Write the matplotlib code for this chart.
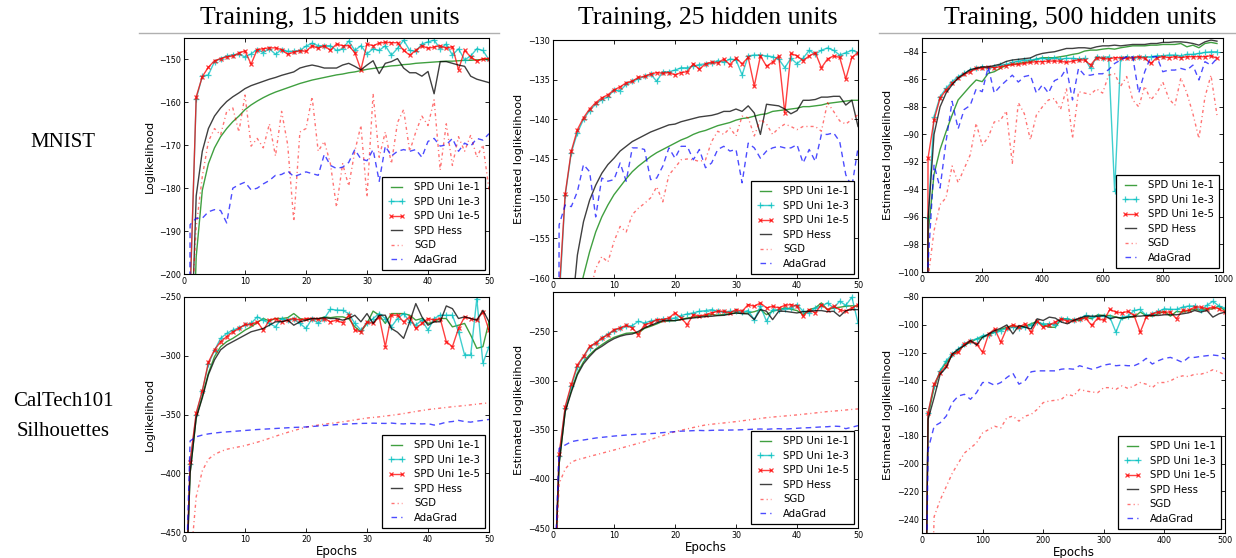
import matplotlib
matplotlib.use("Agg")
import matplotlib.pyplot as plt
from matplotlib.lines import Line2D

# ---------------- data ----------------
labels = ["SPD Uni 1e-1", "SPD Uni 1e-3", "SPD Uni 1e-5", "SPD Hess", "SGD", "AdaGrad"]

ep50 = list(range(0, 51))
ep1000 = list(range(0, 1000, 20))
ep500 = list(range(0, 501, 10))

# MNIST, 15 hidden units
m15_uni1 = [-550, -240, -196, -180.5, -174.3, -170.6, -168.0, -166.1, -164.5, -163.2, -161.7, -160.6, -159.7, -158.9, -158.2, -157.6, -157.1, -156.6, -156.1, -155.6, -155.2, -154.8, -154.5, -154.2, -153.9, -153.6, -153.4, -153.1, -152.9, -152.6, -152.3, -152.1, -151.9, -151.7, -151.5, -151.4, -151.2, -151.1, -150.9, -150.8, -150.7, -150.6, -150.5, -150.4, -150.4, -150.3, -150.2, -150.2, -150.1, -150.0, -150.0]
m15_uni3 = [-550, -205, -159.2, -153.9, -153.6, -150.5, -149.8, -149.2, -148.9, -148.8, -149.4, -148.7, -147.7, -148.4, -147.5, -148.8, -147.7, -148.1, -148.1, -147.9, -146.9, -146.2, -146.8, -146.8, -146.8, -147.9, -147.5, -145.7, -147.9, -146.8, -148.7, -147.5, -147.9, -146.8, -149.0, -147.4, -145.5, -147.9, -148.1, -146.4, -145.9, -145.5, -147.5, -146.4, -149.0, -147.5, -150.1, -149.2, -147.5, -147.9, -150.1]
m15_uni5 = [-550, -205, -158.7, -154.0, -151.8, -150.3, -149.8, -149.4, -149.2, -148.5, -148.0, -151.1, -147.7, -147.5, -147.3, -147.3, -147.7, -148.8, -148.3, -148.0, -148.1, -146.8, -147.4, -146.8, -147.9, -146.4, -146.8, -146.8, -148.4, -152.4, -146.4, -146.8, -146.2, -146.0, -146.1, -146.1, -147.9, -149.0, -147.9, -146.8, -147.4, -147.1, -146.8, -147.4, -147.0, -152.4, -147.9, -149.4, -150.4, -149.8, -149.8]
m15_hess = [-550, -225, -181.8, -171.4, -166.1, -163.2, -161.3, -159.8, -158.7, -157.8, -156.8, -156.1, -155.6, -155.1, -154.6, -154.2, -153.7, -153.3, -152.9, -152.0, -151.6, -151.3, -151.6, -152.0, -152.0, -152.0, -151.3, -150.9, -151.6, -152.4, -151.3, -150.3, -153.3, -150.9, -150.5, -149.8, -152.0, -153.1, -153.1, -153.9, -152.8, -158.0, -150.5, -150.5, -150.9, -151.3, -151.6, -153.9, -154.6, -155.0, -155.4]
m15_sgd = [-550, -215, -189, -177.3, -169.1, -166.1, -167.6, -162.1, -161.3, -166.9, -158.3, -170.2, -168.4, -170.6, -165.0, -172.5, -162.1, -169.9, -187.7, -166.9, -166.1, -158.7, -171.4, -169.1, -174.3, -184.4, -174.3, -179.5, -171.4, -165.4, -182.1, -158.0, -172.8, -166.9, -174.3, -164.7, -161.7, -171.4, -166.9, -163.2, -165.4, -159.4, -175.8, -165.0, -174.7, -168.0, -171.4, -167.6, -172.8, -169.9, -180.3]
m15_ada = [-550, -188.5, -187.0, -187.0, -185.5, -185.0, -185.2, -188.1, -180.0, -179.2, -178.6, -180.4, -180.0, -179.0, -178.2, -177.0, -176.8, -176.0, -177.3, -176.8, -176.2, -176.6, -177.0, -172.1, -174.7, -175.4, -175.1, -174.0, -171.0, -173.2, -173.6, -171.0, -178.4, -170.2, -172.5, -171.4, -171.0, -171.4, -171.0, -172.8, -169.1, -168.4, -170.2, -169.9, -168.4, -171.4, -169.5, -170.2, -168.4, -168.8, -167.3]

# MNIST, 25 hidden units
m25_uni1 = [-550, -250, -200, -175, -163, -159.7, -156.7, -154.2, -152.3, -150.8, -149.5, -148.5, -147.5, -146.6, -145.9, -145.3, -144.7, -144.2, -143.8, -143.4, -143.0, -142.6, -142.3, -141.9, -141.6, -141.4, -141.1, -140.8, -140.6, -140.4, -140.1, -139.9, -139.8, -139.6, -139.4, -139.3, -139.0, -138.9, -138.8, -138.7, -138.6, -138.4, -138.4, -138.3, -138.2, -138.0, -137.9, -137.8, -137.7, -137.6, -137.6]
m25_uni3 = [-550, -163, -149.6, -144.2, -141.7, -140.0, -138.9, -138.1, -137.5, -137.2, -136.3, -136.4, -135.6, -135.2, -134.9, -134.6, -134.3, -135.2, -134.0, -134.0, -133.8, -133.5, -133.5, -133.3, -133.1, -133.0, -132.9, -132.6, -132.8, -132.4, -132.5, -134.4, -132.0, -131.9, -131.9, -132.0, -132.1, -132.4, -133.5, -132.3, -133.0, -132.3, -131.3, -131.8, -131.3, -131.0, -131.3, -131.9, -131.6, -131.3, -131.6]
m25_uni5 = [-550, -162, -149.4, -144.0, -141.3, -139.8, -138.7, -137.9, -137.3, -136.9, -136.3, -135.9, -135.4, -135.2, -134.7, -134.6, -134.3, -134.1, -134.2, -134.1, -134.4, -134.1, -134.0, -133.0, -133.7, -133.0, -132.8, -132.9, -132.4, -133.1, -132.3, -133.0, -132.2, -135.8, -132.0, -133.3, -132.8, -132.0, -139.2, -131.7, -132.0, -132.6, -132.0, -131.6, -133.5, -132.4, -132.0, -132.2, -134.9, -132.2, -131.6]
m25_hess = [-550, -300, -200, -165, -157.1, -152.9, -150.2, -148.3, -146.8, -145.7, -144.9, -144.0, -143.4, -142.8, -142.4, -142.0, -141.6, -141.3, -141.0, -140.7, -140.6, -140.3, -140.1, -139.9, -139.7, -139.6, -139.5, -139.3, -139.0, -139.0, -138.7, -139.0, -138.3, -139.2, -141.9, -138.1, -138.2, -138.3, -138.7, -139.3, -138.9, -137.6, -137.6, -137.5, -137.2, -137.2, -137.1, -137.1, -138.2, -137.6, -140.9]
m25_sgd = [-550, -250, -200, -185, -175, -168, -162, -158.8, -157.3, -158.0, -155.4, -153.5, -154.2, -152.0, -151.2, -150.6, -149.9, -148.5, -150.4, -147.0, -146.1, -145.1, -145.0, -145.1, -145.3, -145.1, -142.8, -141.5, -141.9, -141.1, -142.1, -139.6, -139.8, -142.1, -140.0, -140.6, -141.9, -141.1, -140.6, -140.9, -141.3, -140.9, -140.9, -140.9, -141.5, -137.9, -139.0, -140.2, -140.6, -140.0, -139.4]
m25_ada = [-550, -153.3, -150.8, -151.0, -149.1, -145.7, -146.6, -152.3, -147.4, -147.8, -147.6, -145.5, -147.8, -143.6, -143.6, -143.8, -147.6, -147.4, -145.9, -143.6, -144.9, -143.4, -143.4, -145.1, -143.8, -146.1, -145.5, -143.8, -143.4, -144.0, -143.8, -148.0, -143.0, -143.6, -144.9, -144.0, -143.6, -143.4, -143.6, -143.6, -143.2, -145.5, -143.8, -145.3, -141.9, -141.9, -141.7, -142.8, -147.0, -148.5, -143.6]

# MNIST, 500 hidden units (every 20 epochs)
m500_uni1 = [-300, -97.3, -92.9, -91.1, -89.8, -88.6, -87.5, -87.0, -86.5, -86.05, -86.17, -85.57, -85.45, -85.21, -84.97, -84.92, -84.85, -84.77, -84.72, -84.53, -84.43, -84.43, -84.43, -84.36, -84.29, -84.19, -84.12, -83.95, -83.88, -83.88, -83.81, -83.76, -83.81, -83.71, -83.64, -83.57, -83.57, -83.57, -83.52, -83.52, -83.47, -83.47, -83.47, -83.40, -83.64, -83.52, -83.71, -83.40, -83.32, -83.40]
m500_uni3 = [-300, -96.1, -88.71, -87.26, -86.66, -86.17, -85.81, -85.57, -85.33, -85.21, -85.09, -85.16, -85.09, -84.97, -84.92, -84.77, -84.68, -84.60, -84.60, -84.53, -84.48, -84.53, -84.43, -84.53, -84.48, -84.48, -84.53, -84.48, -85.21, -84.36, -84.43, -84.36, -94.14, -84.43, -84.36, -84.43, -84.36, -84.36, -84.36, -84.29, -84.29, -84.24, -84.24, -84.29, -84.19, -84.19, -84.12, -84.05, -84.0, -84.0]
m500_uni5 = [-300, -91.73, -88.95, -87.38, -86.78, -86.29, -85.93, -85.64, -85.45, -85.21, -85.21, -85.09, -85.16, -85.09, -85.01, -84.92, -84.92, -84.85, -84.77, -84.72, -84.72, -84.68, -84.68, -84.68, -84.77, -84.68, -84.60, -84.60, -84.97, -84.43, -84.48, -84.53, -84.43, -84.43, -84.48, -84.43, -84.36, -84.48, -84.85, -84.43, -84.36, -84.43, -84.36, -84.43, -84.36, -84.36, -84.36, -84.36, -84.29, -84.48]
m500_hess = [-300, -96.3, -90.0, -88.0, -87.0, -86.4, -85.9, -85.6, -85.3, -85.2, -85.1, -85.1, -85.0, -84.9, -84.7, -84.6, -84.55, -84.5, -84.45, -84.24, -84.12, -84.05, -84.0, -83.88, -83.76, -83.76, -83.71, -83.71, -83.76, -83.64, -83.57, -83.57, -83.52, -83.57, -83.52, -83.47, -83.47, -83.47, -83.40, -83.40, -83.32, -83.32, -83.28, -83.28, -83.32, -83.40, -83.52, -83.28, -83.15, -83.23]
m500_sgd = [-300, -100.5, -97.0, -95.1, -94.6, -92.3, -93.5, -92.5, -91.5, -89.2, -90.8, -90.2, -89.1, -89.0, -88.3, -92.1, -87.7, -88.5, -90.4, -88.6, -88.0, -87.5, -87.4, -88.2, -86.7, -90.3, -86.9, -87.0, -87.1, -86.7, -87.0, -85.7, -85.6, -86.5, -85.8, -87.5, -88.0, -86.5, -87.5, -87.0, -86.2, -87.4, -87.9, -85.9, -87.0, -88.5, -90.3, -87.3, -85.7, -88.6]
m500_ada = [-300, -99.5, -92.2, -93.9, -90.5, -87.6, -89.6, -88.2, -87.9, -86.7, -86.9, -85.1, -87.0, -86.5, -86.1, -85.7, -86.2, -85.8, -85.7, -87.0, -86.4, -87.0, -86.1, -85.9, -85.2, -87.5, -85.2, -85.7, -85.7, -85.6, -85.6, -85.3, -84.85, -84.6, -84.36, -84.36, -87.0, -85.45, -84.36, -84.36, -85.45, -85.33, -85.33, -85.21, -85.33, -84.97, -86.05, -84.72, -84.97, -84.48]

# CalTech101 Silhouettes, 15 hidden units
c15_uni1 = [-550, -400, -352.8, -334.5, -314.8, -300.7, -292.3, -288.0, -285.2, -281.8, -278.2, -275.4, -271.7, -268.3, -270.4, -268.3, -268.3, -267.6, -264.1, -268.3, -269.7, -268.3, -268.9, -266.9, -267.6, -266.9, -266.9, -268.3, -275.4, -279.6, -272.5, -262.0, -265.5, -272.5, -264.1, -264.1, -264.1, -265.5, -269.7, -268.3, -272.5, -271.1, -268.3, -268.3, -275.4, -274.0, -272.5, -282.4, -293.7, -292.3, -271.1]
c15_uni3 = [-550, -392, -350, -330, -307, -295.5, -285.2, -281.0, -278.2, -276.2, -273.9, -272.5, -266.9, -269.7, -272.5, -275.4, -268.3, -269.7, -268.3, -272.5, -276.8, -268.3, -272.5, -268.3, -260.4, -261.1, -261.3, -264.1, -272.5, -278.2, -272.5, -268.3, -264.1, -268.3, -275.4, -268.3, -264.1, -271.1, -273.9, -269.7, -278.2, -268.3, -265.5, -265.5, -265.5, -279.6, -299.3, -299.3, -251.4, -306.3, -292.3]
c15_uni5 = [-550, -390, -348.6, -330.0, -305.5, -295.0, -288.0, -283.8, -279.6, -276.8, -273.4, -273.4, -271.1, -278.2, -269.7, -268.3, -271.1, -269.7, -268.3, -269.7, -268.3, -268.3, -268.9, -268.3, -271.1, -269.7, -272.0, -265.5, -278.2, -279.6, -271.1, -272.5, -266.9, -292.3, -265.5, -265.5, -271.1, -266.9, -276.8, -272.5, -268.3, -269.7, -268.3, -288.0, -292.3, -276.8, -266.9, -268.3, -269.7, -262.7, -278.2]
c15_hess = [-550, -400, -352.8, -336, -316.2, -303.5, -295.0, -290.8, -288.0, -285.2, -282.4, -279.6, -278.2, -276.8, -274.0, -271.1, -271.1, -269.7, -274.0, -271.1, -269.7, -268.3, -268.3, -267.6, -268.3, -268.3, -269.7, -268.3, -265.5, -271.1, -264.1, -272.5, -265.5, -265.5, -276.8, -280.0, -285.2, -271.1, -255.6, -266.9, -274.0, -271.1, -271.1, -257.6, -259.9, -268.3, -266.9, -268.3, -269.7, -261.3, -271.1]
c15_sgd = [-550, -480, -420, -398, -388, -384, -381.5, -379.6, -378.5, -377.5, -376.5, -375.0, -373.6, -372.0, -370.3, -368.5, -366.8, -365.2, -363.7, -362.2, -360.8, -359.8, -359.0, -358.2, -357.6, -357.0, -356.2, -355.5, -354.6, -353.8, -353.0, -352.5, -352.0, -351.3, -350.7, -350.0, -349.2, -348.3, -347.4, -346.6, -345.8, -345.2, -344.6, -344.0, -343.4, -342.9, -342.4, -341.8, -341.2, -340.6, -340.1]
c15_ada = [-550, -372.5, -369, -367.5, -366.5, -365.8, -365.2, -364.8, -364.4, -364.0, -363.6, -363.2, -362.8, -362.5, -362.2, -361.9, -361.6, -361.3, -361.0, -360.8, -360.6, -360.2, -359.8, -359.4, -359.0, -358.6, -358.3, -358.0, -357.8, -357.6, -357.5, -357.4, -357.5, -357.6, -357.3, -357.8, -358.0, -357.6, -357.8, -358.0, -357.8, -359.0, -358.0, -356.5, -356.0, -355.0, -356.0, -356.5, -355.6, -355.0, -354.2]

# CalTech101 Silhouettes, 25 hidden units
c25_uni1 = [-550, -385, -331.6, -310, -292.5, -281, -273.8, -268, -263.6, -259.5, -256.1, -254, -252.0, -251.5, -251.7, -247, -244.9, -242.5, -239.8, -239.4, -239.1, -238.0, -236.4, -235.5, -234.7, -234.0, -233.0, -233.5, -233.0, -232.0, -231.3, -231.8, -231.3, -230.0, -227.9, -233.0, -229.6, -228.0, -226.2, -227.5, -228.9, -233.0, -227.9, -226.2, -221.1, -227.9, -226.2, -225.5, -224.5, -224.0, -224.5]
c25_uni3 = [-550, -377, -328, -306, -286, -276, -266.5, -262, -257, -253, -249.5, -247, -245, -244.2, -239.8, -241.5, -239.5, -238.5, -237.5, -237.1, -236.4, -234.0, -232.3, -231.3, -229.6, -229.0, -227.9, -229.6, -230.3, -229.6, -229.6, -230.5, -228.9, -238.1, -224.5, -239.8, -227.9, -228.5, -226.9, -226.2, -222.8, -229.6, -231.3, -226.2, -224.5, -221.1, -226.2, -219.4, -223.5, -215.3, -241.5]
c25_uni5 = [-550, -375, -326.5, -304, -284.0, -275.5, -265.3, -261.9, -256.8, -253.4, -248.3, -246.6, -243.9, -246.6, -253.4, -243.2, -241.5, -238.1, -238.1, -236.4, -231.3, -236.4, -243.2, -233.0, -234.7, -233.0, -231.3, -229.6, -229.6, -231.3, -227.9, -229.6, -222.8, -224.5, -221.1, -226.2, -224.5, -226.2, -223.5, -222.8, -224.5, -234.7, -227.9, -231.3, -222.8, -227.9, -224.5, -227.9, -229.6, -226.2, -222.8]
c25_hess = [-550, -385, -331.6, -312, -294.2, -283, -275.5, -269, -265.3, -261, -257.5, -255, -253.4, -252.7, -250.0, -246.5, -243.9, -241.5, -239.1, -239.1, -239.1, -238.0, -237.1, -236.4, -235.7, -235.0, -234.7, -234.0, -233.7, -232.5, -231.3, -232.0, -232.3, -238.1, -227.9, -229.6, -238.1, -229.6, -229.6, -230.5, -231.3, -230.0, -229.6, -229.0, -228.9, -230.0, -229.6, -234.7, -228.9, -227.9, -227.9]
c25_sgd = [-550, -405, -390, -383, -380.5, -379, -377.2, -375.6, -374, -372.3, -370.7, -369, -367.3, -365.6, -363.9, -362.2, -360, -358, -356, -354, -352, -350.6, -349.2, -347.8, -346.5, -345.2, -344.5, -343.8, -343.2, -342.5, -341.8, -341, -340.2, -339.4, -338.6, -337.8, -337.2, -336.6, -336.1, -335.5, -335.0, -334.3, -333.7, -333.0, -332.3, -331.6, -331.1, -330.6, -330.0, -329.4, -328.9]
c25_ada = [-550, -369, -365.6, -362.2, -361, -360.5, -359.5, -358.5, -357.8, -357.2, -356.5, -356, -355.5, -355, -354.6, -354.4, -354, -353.6, -353, -352.5, -352, -351.5, -351.3, -351, -350.8, -351, -350.7, -350.5, -350.5, -350.4, -350.3, -350.1, -349.8, -349.5, -349.3, -349.6, -349.2, -349.0, -349.4, -349.0, -348.6, -348.2, -348.0, -347.6, -347.2, -347.0, -346.4, -346.7, -349.0, -347.5, -345.9]

# CalTech101 Silhouettes, 500 hidden units (every 10 epochs)
c500_uni1 = [-550, -165.8, -145.3, -133.2, -127.1, -122.3, -118.7, -114.6, -112.6, -110.2, -109.0, -107.3, -105.4, -103.4, -101.8, -100.5, -101.8, -101.0, -99.3, -97.6, -100.1, -101.8, -101.8, -95.7, -95.7, -96.9, -96.9, -94.5, -95.7, -92.8, -93.3, -93.3, -94.5, -95.7, -94.5, -94.5, -90.9, -93.3, -93.8, -92.1, -90.4, -93.8, -90.4, -90.9, -89.7, -88.9, -89.7, -88.9, -88.5, -86.5, -89.7]
c500_uni3 = [-550, -163.4, -144.0, -133.2, -125.9, -121.1, -117.5, -113.8, -111.4, -110.2, -107.8, -107.3, -105.4, -104.2, -102.5, -101.8, -102.5, -101.8, -100.5, -98.1, -99.3, -99.3, -100.1, -95.7, -95.7, -96.9, -95.7, -93.3, -94.5, -93.8, -93.8, -94.5, -105.4, -94.5, -93.8, -89.7, -88.9, -93.3, -92.1, -90.4, -88.5, -88.9, -88.9, -87.3, -86.5, -86.5, -89.7, -86.0, -83.1, -86.5, -88.0]
c500_uni5 = [-550, -163.4, -142.8, -134.4, -129.5, -121.1, -119.9, -113.8, -111.4, -113.8, -119.9, -106.6, -103.0, -112.6, -102.5, -100.1, -101.8, -99.3, -105.4, -97.6, -101.8, -100.1, -98.1, -95.7, -97.6, -96.9, -95.7, -95.2, -100.5, -95.2, -96.9, -88.9, -90.9, -91.4, -90.4, -93.3, -105.4, -94.5, -92.1, -90.9, -90.9, -90.9, -95.7, -89.7, -89.7, -87.3, -87.3, -88.5, -87.3, -88.5, -90.9]
c500_hess = [-550, -168.2, -152.5, -135.6, -130.8, -121.1, -117.5, -115.0, -111.4, -114.6, -109.0, -106.6, -104.2, -102.5, -100.1, -106.6, -100.5, -101.8, -103.0, -95.7, -96.9, -94.5, -95.2, -98.1, -99.3, -96.9, -95.2, -93.8, -93.8, -93.8, -93.3, -95.7, -94.5, -95.2, -94.5, -93.8, -93.8, -93.3, -93.3, -93.3, -92.8, -92.8, -92.8, -92.1, -91.4, -89.7, -90.9, -89.7, -94.5, -92.1, -90.9]
c500_sgd = [-550, -400, -238.3, -226.2, -216.6, -206.9, -199.6, -192.4, -188.8, -185.1, -177.9, -175.5, -173.1, -174.3, -167.0, -165.8, -169.4, -165.8, -164.6, -161.0, -156.1, -154.9, -154.4, -153.7, -150.1, -151.3, -146.5, -147.7, -148.4, -148.9, -145.3, -145.3, -146.5, -144.0, -145.9, -144.0, -141.6, -142.8, -145.3, -141.6, -141.6, -140.4, -138.0, -136.8, -137.3, -135.6, -135.6, -134.4, -132.4, -133.9, -136.3]
c500_ada = [-550, -190.0, -173.1, -170.6, -165.8, -156.1, -151.3, -150.1, -153.7, -148.9, -141.6, -141.6, -143.6, -141.6, -138.0, -134.9, -142.8, -140.4, -133.9, -133.2, -133.2, -133.2, -133.2, -132.0, -131.6, -132.0, -129.5, -130.8, -132.0, -130.8, -129.1, -128.3, -129.5, -129.1, -129.5, -129.5, -127.6, -124.2, -128.3, -125.9, -124.2, -123.5, -125.2, -127.1, -123.5, -123.5, -122.8, -122.3, -121.8, -122.3, -124.7]

col_titles = ["Training, 15 hidden units", "Training, 25 hidden units", "Training, 500 hidden units"]
row_titles = [["MNIST"], ["CalTech101", "Silhouettes"]]

# ---------------- layout ----------------
W, H = 1236, 558
fig = plt.figure(figsize=(W / 100, H / 100), dpi=100)


def add_ax(x0, y0, x1, y1):
    return fig.add_axes([x0 / W, 1 - y1 / H, (x1 - x0) / W, (y1 - y0) / H])


styles = [
    dict(color="g", ls="-", alpha=0.75),
    dict(color="c", ls="-", marker="+", ms=4.5, mew=0.9, alpha=0.75),
    dict(color="r", ls="-", marker="x", ms=3.5, mew=0.9, alpha=0.75),
    dict(color="k", ls="-", alpha=0.75),
    dict(color="r", ls=(0, (2.2, 2.2, 0.8, 2.2)), alpha=0.55),
    dict(color="b", ls=(0, (4.0, 3.0)), alpha=0.7),
]


def panel(rect, x, series, xlim, ylim, xticks, yticks, ylabel, xlabel=None):
    ax = add_ax(*rect)
    for s, st, lab in zip(series, styles, labels):
        ax.plot(x, s, lw=1.0, label=lab, **st)
    ax.set_xlim(*xlim)
    ax.set_ylim(*ylim)
    ax.set_xticks(xticks)
    ax.set_yticks(yticks)
    ax.tick_params(direction="in", top=True, right=True, labelsize=5.8,
                   length=3, width=0.6, pad=2)
    for sp in ax.spines.values():
        sp.set_linewidth(0.8)
    ax.set_ylabel(ylabel, fontsize=8, labelpad=3)
    if xlabel:
        ax.set_xlabel(xlabel, fontsize=8.5, labelpad=1)
    leg = ax.legend(loc="lower right", fontsize=7.3, handlelength=1.7,
                    handletextpad=0.9, borderpad=0.5, labelspacing=0.45,
                    borderaxespad=0.4, numpoints=2, fancybox=False,
                    framealpha=1, edgecolor="k")
    leg.get_frame().set_linewidth(0.9)
    return ax


panel((184, 38, 489, 274), ep50,
      [m15_uni1, m15_uni3, m15_uni5, m15_hess, m15_sgd, m15_ada],
      (0, 50), (-200, -145), range(0, 51, 10), range(-200, -149, 10), "Loglikelihood")
panel((553, 40, 858, 278), ep50,
      [m25_uni1, m25_uni3, m25_uni5, m25_hess, m25_sgd, m25_ada],
      (0, 50), (-160, -130), range(0, 51, 10), range(-160, -129, 5), "Estimated loglikelihood")
panel((922, 38, 1223, 272), ep1000,
      [m500_uni1, m500_uni3, m500_uni5, m500_hess, m500_sgd, m500_ada],
      (0, 1000), (-100, -83), range(0, 1001, 200), range(-100, -83, 2), "Estimated loglikelihood")
panel((184, 297, 489, 532), ep50,
      [c15_uni1, c15_uni3, c15_uni5, c15_hess, c15_sgd, c15_ada],
      (0, 50), (-450, -250), range(0, 51, 10), range(-450, -249, 50), "Loglikelihood", "Epochs")
panel((553, 292, 858, 528), ep50,
      [c25_uni1, c25_uni3, c25_uni5, c25_hess, c25_sgd, c25_ada],
      (0, 50), (-450, -210), range(0, 51, 10), range(-450, -249, 50), "Estimated loglikelihood", "Epochs")
panel((922, 297, 1225, 533), ep500,
      [c500_uni1, c500_uni3, c500_uni5, c500_hess, c500_sgd, c500_ada],
      (0, 500), (-250, -80), range(0, 501, 100), range(-240, -79, 20), "Estimated loglikelihood", "Epochs")

serif = ["Liberation Serif", "DejaVu Serif"]
for cx, t in zip([330, 708, 1080], col_titles):
    fig.text(cx / W, 1 - 18 / H, t, ha="center", va="center", fontsize=18.5, family=serif)
for (xa, xb) in [(139, 499), (879, 1236)]:
    fig.add_artist(Line2D([xa / W, xb / W], [1 - 33 / H, 1 - 33 / H],
                          transform=fig.transFigure, color="#b0b0b0", lw=1.0))

fig.text(63 / W, 1 - 143 / H, row_titles[0][0], ha="center", va="center", fontsize=15, family=serif)
fig.text(63 / W, 1 - 402 / H, row_titles[1][0], ha="center", va="center", fontsize=15, family=serif)
fig.text(63 / W, 1 - 432 / H, row_titles[1][1], ha="center", va="center", fontsize=15, family=serif)

fig.savefig("out.png", dpi=100)
